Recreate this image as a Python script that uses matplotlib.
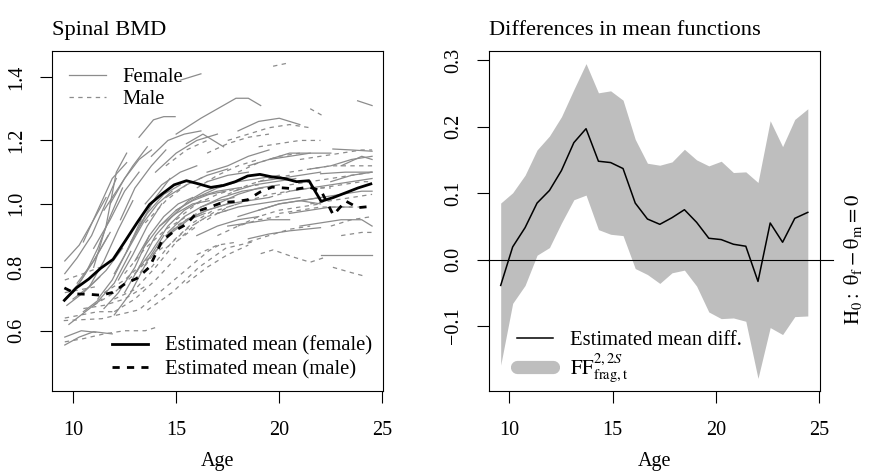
import matplotlib
matplotlib.use("Agg")
import matplotlib.pyplot as plt
from matplotlib.lines import Line2D
from matplotlib.transforms import blended_transform_factory

plt.rcParams['font.family'] = ['Liberation Serif', 'DejaVu Serif']
plt.rcParams['mathtext.fontset'] = 'stix'

# individual trajectories (age, spinal BMD)
female_ages = [
    [9.6, 10.3, 11.0, 11.6], [9.6, 10.2, 10.9, 11.5, 12.1], [11.0, 11.6, 12.1, 12.6],
    [11.8, 12.5, 13.2, 13.8], [13.2, 13.9, 14.4, 14.95], [15.0, 16.2, 17.9, 18.5, 19.1],
    [15.2, 16.2], [23.8, 24.5], [22.6, 23.5, 24.5], [22.0, 23.2, 24.5], [22.0, 23.0, 24.5],
    [18.5, 19.5, 20.5, 22.0], [9.6, 10.3, 11.0, 11.9], [9.6, 10.4, 11.1],
    [14.0, 15.0, 16.0, 17.0], [12.3, 13.0, 13.8, 14.5], [16.5, 17.5, 18.5, 19.5],
    [18.0, 19.0, 20.0, 21.0], [19.5, 20.5, 21.5], [21.5, 22.5, 23.5, 24.5],
    [23.0, 24.0, 24.5], [22.5, 23.5, 24.5], [21.0, 22.0, 23.0, 24.0, 24.5],
    [20.5, 21.5, 22.5, 23.5], [13.0, 13.8, 14.6, 15.4, 16.2], [12.5, 13.2, 14.0, 14.8],
    [10.5, 11.3, 12.0, 12.8], [10.0, 10.8, 11.6, 12.4], [11.5, 12.2, 13.0, 13.7],
    [9.7, 10.5, 11.3], [15.0, 16.0, 17.0, 18.0], [16.0, 17.0, 18.0, 19.0],
    [17.0, 18.0, 19.0, 20.0], [14.5, 15.5, 16.5, 17.5], [18.0, 19.0, 20.0, 21.0, 22.0],
    [13.5, 14.3, 15.2, 16.0], [12.8, 13.6, 14.4, 15.2], [15.5, 16.3, 17.3],
    [11.0, 11.8, 12.5, 13.2], [10.2, 11.0, 11.8], [19.0, 20.0, 21.0, 22.0],
    [17.5, 18.5, 19.5, 20.5], [16.5, 17.5, 18.5], [14.0, 14.8, 15.6, 16.4],
    [12.0, 12.8, 13.6, 14.4], [18.5, 19.5, 20.5, 21.5, 22.5], [20.5, 21.5, 22.5, 23.5, 24.5],
    [9.8, 10.6, 11.4], [14.5, 15.5, 16.5, 17.5], [21.0, 22.0, 23.0, 24.0, 24.5],
    [10.0, 10.6, 11.2, 11.8, 12.4], [10.8, 11.5, 12.2, 12.9], [12.0, 12.7, 13.4, 14.1, 14.8],
    [13.0, 13.7, 14.4, 15.1, 15.8], [14.2, 15.0, 15.8, 16.6, 17.4],
    [15.5, 16.5, 17.5, 18.5, 19.5], [16.0, 17.0, 18.0, 19.0, 20.0], [11.2, 11.9, 12.6, 13.3],
    [12.6, 13.3, 14.0, 14.7], [17.0, 18.0, 19.0, 20.0, 21.0], [10.5, 11.2, 11.9, 12.6],
    [11.5, 12.2, 12.9, 13.6], [13.8, 14.6, 15.4, 16.2], [19.0, 20.0, 21.0, 22.0],
    [14.8, 15.6, 16.4, 17.2],
    [13.4, 14.2, 15.0, 15.8, 16.6], [14.6, 15.4, 16.2, 17.0, 17.8], [16.2, 17.2, 18.2, 19.2],
    [12.2, 12.9, 13.6, 14.3], [17.8, 18.8, 19.8, 20.8], [9.6, 10.3, 11.0, 11.7],
]
female_bmd = [
    [0.82, 0.87, 0.95, 1.02], [0.78, 0.83, 0.90, 0.99, 1.08], [0.80, 0.93, 1.10, 1.16],
    [1.00, 1.08, 1.14, 1.17], [1.21, 1.265, 1.275, 1.275], [1.22, 1.27, 1.333, 1.333, 1.31],
    [1.39, 1.41], [1.325, 1.31], [1.173, 1.17, 1.166], [1.095, 1.10, 1.10], [0.84, 0.84, 0.84],
    [0.89, 0.905, 0.915, 0.925], [0.555, 0.58, 0.597, 0.59], [0.58, 0.60, 0.595],
    [1.10, 1.16, 1.20, 1.22], [0.95, 1.05, 1.12, 1.17], [1.10, 1.12, 1.15, 1.17],
    [1.23, 1.26, 1.27, 1.25], [1.14, 1.16, 1.16], [1.11, 1.12, 1.14, 1.15],
    [1.12, 1.15, 1.14], [1.07, 1.09, 1.10], [0.93, 0.94, 0.95, 0.95, 0.93],
    [0.97, 0.98, 0.99, 0.99], [0.78, 0.85, 0.93, 0.98, 1.01], [0.72, 0.80, 0.90, 0.96],
    [0.66, 0.70, 0.75, 0.85], [0.70, 0.74, 0.79, 0.86], [0.67, 0.72, 0.80, 0.90],
    [0.68, 0.72, 0.77], [0.98, 1.02, 1.04, 1.05], [0.90, 0.93, 0.95, 0.96],
    [1.00, 1.03, 1.05, 1.06], [0.90, 0.95, 0.98, 1.00], [0.96, 0.98, 1.00, 1.01, 1.00],
    [1.00, 1.06, 1.10, 1.12], [0.88, 0.97, 1.03, 1.06], [1.19, 1.22, 1.18],
    [0.86, 0.95, 1.04, 1.10], [0.75, 0.82, 0.91], [1.07, 1.08, 1.09, 1.10],
    [0.93, 0.94, 0.95, 0.95], [1.07, 1.09, 1.10], [0.85, 0.91, 0.95, 0.97],
    [0.65, 0.72, 0.82, 0.90], [1.12, 1.14, 1.15, 1.16, 1.16], [1.04, 1.05, 1.06, 1.07, 1.08],
    [0.62, 0.66, 0.70], [1.02, 1.06, 1.09, 1.11], [1.01, 1.02, 1.03, 1.04, 1.04],
    [0.72, 0.78, 0.86, 0.96, 1.05], [0.74, 0.82, 0.92, 1.01], [0.78, 0.86, 0.94, 1.00, 1.04],
    [0.82, 0.90, 0.96, 1.00, 1.02], [0.93, 0.98, 1.01, 1.03, 1.04],
    [0.95, 0.98, 1.00, 1.01, 1.02], [1.02, 1.05, 1.07, 1.08, 1.09], [0.70, 0.76, 0.85, 0.95],
    [0.85, 0.94, 1.02, 1.08], [0.97, 0.99, 1.00, 1.01, 1.02], [0.88, 0.98, 1.08, 1.13],
    [0.98, 1.05, 1.12, 1.18], [1.15, 1.20, 1.22, 1.23], [0.98, 1.00, 1.01, 1.02],
    [0.96, 1.01, 1.04, 1.06],
    [0.86, 0.93, 0.97, 1.00, 1.01], [0.91, 0.96, 0.99, 1.01, 1.02], [0.99, 1.02, 1.04, 1.05],
    [0.76, 0.84, 0.93, 1.00], [1.04, 1.06, 1.07, 1.08], [0.70, 0.75, 0.82, 0.90],
]
male_ages = [
    [19.7, 20.35], [21.5, 22.05], [9.55, 11.4, 13.2, 14.3, 15.45, 16.6, 17.2],
    [19.1, 19.7, 20.7, 21.5, 22.15], [22.6, 23.4, 24.2], [13.6, 14.8, 16.1, 17.4, 18.7],
    [9.6, 10.5, 11.5, 12.5, 13.5, 14.0], [9.6, 10.4, 11.2, 12.0], [10.5, 11.5, 12.5, 13.5],
    [12.0, 13.0, 14.0, 15.0, 16.0], [13.0, 14.0, 15.0, 16.0], [14.5, 15.5, 16.5, 17.5],
    [15.0, 16.0, 17.0, 18.0, 19.0], [16.0, 17.0, 18.0, 19.0], [17.5, 18.5, 19.5, 20.5, 21.5],
    [18.0, 19.0, 20.0, 21.0], [19.5, 20.5, 21.5, 22.5], [20.0, 21.0, 22.0, 23.0, 24.0],
    [21.0, 22.0, 23.0, 24.0, 24.5], [22.0, 23.0, 24.0, 24.5], [22.5, 23.5, 24.5],
    [17.0, 18.0, 19.0, 20.0], [18.5, 19.5, 20.5, 21.5], [15.5, 16.5, 17.5, 18.5],
    [11.5, 12.5, 13.5, 14.5], [9.6, 10.4, 11.2], [9.6, 10.5, 11.3],
    [13.5, 14.5, 15.5, 16.5], [14.5, 15.5, 16.5], [16.5, 17.5, 18.5, 19.5],
    [20.5, 21.5, 22.5, 23.5, 24.5], [19.0, 20.0, 21.0, 22.0], [21.5, 22.5, 23.5, 24.5],
    [16.0, 17.0, 18.0], [23.0, 24.0, 24.5],
    [12.5, 13.5, 14.5, 15.5], [13.8, 14.8, 15.8, 16.8], [15.0, 16.0, 17.0, 18.0],
    [16.5, 17.5, 18.5, 19.5, 20.5], [17.5, 18.5, 19.5, 20.5], [18.0, 19.0, 20.0, 21.0, 22.0],
    [11.0, 12.0, 13.0, 14.0], [12.0, 13.0, 14.0, 15.0], [20.5, 21.5, 22.5, 23.5, 24.5],
]
male_bmd = [
    [1.434, 1.443], [1.30, 1.28], [0.632, 0.638, 0.666, 0.727, 0.79, 0.853, 0.874],
    [0.843, 0.855, 0.832, 0.816, 0.83], [0.80, 0.785, 0.771], [0.665, 0.72, 0.80, 0.86, 0.88],
    [0.565, 0.575, 0.59, 0.60, 0.60, 0.61], [0.64, 0.65, 0.66, 0.66], [0.67, 0.68, 0.70, 0.74],
    [0.70, 0.73, 0.80, 0.88, 0.93], [0.76, 0.85, 0.93, 0.97], [0.86, 0.92, 0.96, 0.98],
    [0.95, 1.00, 1.03, 1.05, 1.06], [1.05, 1.09, 1.12, 1.14], [1.20, 1.22, 1.24, 1.25, 1.24],
    [1.10, 1.13, 1.15, 1.16], [1.02, 1.04, 1.05, 1.05], [0.97, 0.98, 0.99, 0.99, 0.99],
    [1.14, 1.15, 1.16, 1.17, 1.17], [1.05, 1.06, 1.07, 1.07], [0.93, 0.95, 0.96],
    [0.90, 0.93, 0.95, 0.96], [0.88, 0.90, 0.92, 0.93], [0.75, 0.80, 0.84, 0.87],
    [0.72, 0.76, 0.82, 0.87], [0.72, 0.73, 0.74], [0.76, 0.78, 0.80],
    [0.94, 1.01, 1.06, 1.09], [1.12, 1.17, 1.20], [1.16, 1.19, 1.21, 1.22],
    [1.10, 1.11, 1.12, 1.12, 1.12], [1.18, 1.19, 1.20, 1.20], [1.00, 1.01, 1.02, 1.03],
    [0.84, 0.87, 0.88], [0.90, 0.91, 0.91],
    [0.78, 0.86, 0.92, 0.96], [0.80, 0.88, 0.94, 0.98], [0.88, 0.94, 0.98, 1.00],
    [0.95, 0.99, 1.01, 1.03, 1.04], [1.03, 1.06, 1.08, 1.09], [0.93, 0.96, 0.98, 0.99, 1.00],
    [0.68, 0.72, 0.78, 0.85], [0.66, 0.70, 0.76, 0.83], [1.06, 1.07, 1.08, 1.09, 1.10],
]

# estimated means and difference, on the common age grid
grid_ages = [9.58, 10.16, 10.76, 11.34, 11.94, 12.52, 13.12, 13.71, 14.31, 14.9, 15.5, 16.09,
             16.68, 17.28, 17.87, 18.47, 19.06, 19.65, 20.25, 20.84, 21.44, 22.03, 22.62,
             23.22, 23.81, 24.44]
mean_female = [0.696, 0.735, 0.763, 0.797, 0.825, 0.882, 0.942, 0.998, 1.031, 1.06, 1.073,
               1.063, 1.052, 1.058, 1.07, 1.088, 1.093, 1.085, 1.08, 1.07, 1.073, 1.008,
               1.02, 1.035, 1.05, 1.063]
mean_male = [0.735, 0.716, 0.715, 0.712, 0.721, 0.748, 0.766, 0.801, 0.883, 0.914, 0.936,
             0.978, 0.991, 1.005, 1.007, 1.013, 1.037, 1.053, 1.05, 1.047, 1.053, 1.041,
             0.965, 1.009, 0.988, 0.992]
mean_diff = [-0.039, 0.019, 0.048, 0.085, 0.104, 0.134, 0.176, 0.197, 0.148, 0.146, 0.137,
             0.085, 0.061, 0.053, 0.063, 0.075, 0.056, 0.032, 0.030, 0.023, 0.020, -0.033,
             0.055, 0.026, 0.062, 0.071]
band_upper = [0.085, 0.1005, 0.127, 0.165, 0.186, 0.215, 0.256, 0.295, 0.251, 0.254, 0.240,
              0.181, 0.145, 0.142, 0.147, 0.166, 0.150, 0.141, 0.148, 0.131, 0.132, 0.116,
              0.209, 0.170, 0.211, 0.227]
band_lower = [-0.159, -0.066, -0.039, 0.0065, 0.018, 0.055, 0.090, 0.097, 0.045, 0.038,
              0.036, -0.0136, -0.0226, -0.036, -0.020, -0.016, -0.040, -0.079, -0.089,
              -0.088, -0.093, -0.179, -0.1025, -0.113, -0.086, -0.085]

GREY = '#8c8c8c'
BAND = '#bebebe'
FS = 14.5      # ticks, axis labels
FS_LEG = 14.9  # legends
FS_TITLE = 16.2

fig = plt.figure(figsize=(8.72, 4.72), dpi=100)
ax1 = fig.add_axes([52 / 872, 81 / 472, 331 / 872, 340 / 472])
ax2 = fig.add_axes([488.7 / 872, 81 / 472, 331.3 / 872, 340 / 472])

# left panel: spaghetti + means
for a, b in zip(female_ages, female_bmd):
    ax1.plot(a, b, color=GREY, lw=0.9)
for a, b in zip(male_ages, male_bmd):
    ax1.plot(a, b, color=GREY, lw=0.9, dashes=(3.5, 3.5))
ax1.plot(grid_ages, mean_female, color='black', lw=2.0)
ax1.plot(grid_ages, mean_male, color='black', lw=2.0, dashes=(2.6, 2.6))
ax1.set_xlim(8.98, 25.03)
ax1.set_ylim(0.41, 1.482)
ax1.set_yticks([0.6, 0.8, 1.0, 1.2, 1.4])
ax1.set_yticklabels(['0.6', '0.8', '1.0', '1.2', '1.4'])

leg1 = ax1.legend(handles=[Line2D([], [], color=GREY, lw=0.9),
                           Line2D([], [], color=GREY, lw=0.9, dashes=(3.5, 3.5))],
                  labels=['Female', 'Male'], loc='upper left', bbox_to_anchor=(0.051, 0.95),
                  frameon=False, fontsize=FS_LEG, handlelength=1.8, handletextpad=0.8,
                  borderpad=0, borderaxespad=0, labelspacing=0.12)
ax1.add_artist(leg1)
ax1.legend(handles=[Line2D([], [], color='black', lw=2.0),
                    Line2D([], [], color='black', lw=2.0, dashes=(2.6, 2.6))],
           labels=['Estimated mean (female)', 'Estimated mean (male)'], loc='lower left',
           bbox_to_anchor=(0.181, 0.035), frameon=False, fontsize=FS_LEG, handlelength=1.75,
           handletextpad=0.8, borderpad=0, borderaxespad=0, labelspacing=0.18)
ax1.text(0.0, 1.06, 'Spinal BMD', transform=ax1.transAxes, fontsize=FS_TITLE,
         ha='left', va='center')

# right panel: mean difference with band
ax2.fill_between(grid_ages, band_lower, band_upper, color=BAND, lw=0)
ax2.plot(grid_ages, mean_diff, color='black', lw=1.1)
ax2.plot([8.98, 25.65], [0, 0], color='black', lw=0.8, clip_on=False)
ax2.set_xlim(9.0, 25.03)
ax2.set_ylim(-0.198, 0.314)
ax2.set_yticks([-0.1, 0.0, 0.1, 0.2, 0.3])
ax2.set_yticklabels(['\u22120.1', '0.0', '0.1', '0.2', '0.3'])
ax2.legend(handles=[Line2D([], [], color='black', lw=1.1),
                    Line2D([], [], color=BAND, lw=9.5, solid_capstyle='round')],
           labels=['Estimated mean diff.', r'$\mathrm{FF}^{2,2S}_{\mathrm{frag,t}}$'],
           loc='lower left', bbox_to_anchor=(0.085, 0.018), frameon=False, fontsize=FS_LEG,
           handlelength=1.75, handletextpad=0.8, borderpad=0, borderaxespad=0,
           labelspacing=0.12)
ax2.text(0.0, 1.06, 'Differences in mean functions', transform=ax2.transAxes,
         fontsize=FS_TITLE, ha='left', va='center')
tr = blended_transform_factory(ax2.transAxes, ax2.transData)
ax2.text(1.1, 0.0, r'$\mathrm{H_0:\ \theta_f - \theta_m = 0}$', transform=tr, fontsize=FS_LEG,
         rotation=90, ha='center', va='center')

for ax in (ax1, ax2):
    ax.set_xticks([10, 15, 20, 25])
    ax.set_xlabel('Age', fontsize=FS, labelpad=9)
    ax.tick_params(direction='out', length=8.5, width=0.8, labelsize=FS, pad=13)
    ax.tick_params(axis='y', pad=10)
    for lab in ax.get_yticklabels():
        lab.set_rotation(90)
        lab.set_va('center')
    for s in ax.spines.values():
        s.set_linewidth(0.8)

fig.savefig('out.png', dpi=100)
